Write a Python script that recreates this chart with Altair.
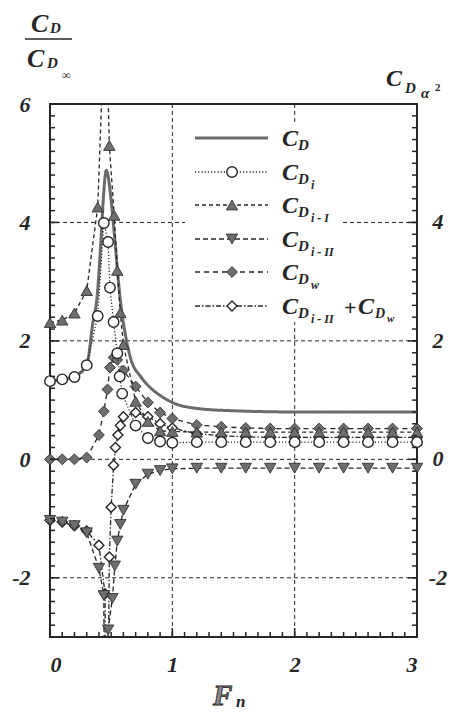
import altair as alt
import numpy as np
import pandas as pd

# ---------------- data: drag ratio components vs. Froude number ----------------
fn_cd = [0.0, 0.1, 0.2, 0.3, 0.35, 0.385, 0.42, 0.435, 0.46, 0.5, 0.525, 0.575,
         0.63, 0.66, 0.74, 0.8, 0.9, 1.0, 1.2, 1.5, 2.0, 2.5, 3.0]
cd = [1.32, 1.35, 1.40, 1.59, 2.30, 2.75, 3.82, 4.37, 4.88, 4.37, 3.82, 2.69,
      1.96, 1.70, 1.40, 1.25, 1.08, 0.96, 0.86, 0.82, 0.80, 0.80, 0.80]

fn_di = [0.0, 0.1, 0.2, 0.3, 0.39, 0.44, 0.475, 0.49, 0.52, 0.55, 0.57, 0.59,
         0.7, 0.8, 0.9, 1.0, 1.2, 1.4, 1.6, 1.8, 2.0, 2.2, 2.4, 2.6, 2.8, 3.0]
cdi = [1.32, 1.35, 1.39, 1.59, 2.42, 3.99, 3.67, 2.90, 2.32, 1.79, 1.40, 1.11,
       0.57, 0.36, 0.30, 0.28, 0.29, 0.29, 0.29, 0.29, 0.29, 0.29, 0.29, 0.29, 0.29, 0.29]

fn_di1 = [0.0, 0.1, 0.2, 0.3, 0.39, 0.455, 0.485, 0.525, 0.55, 0.575, 0.6, 0.7,
          0.8, 0.9, 1.0, 1.2, 1.4, 1.6, 1.8, 2.0, 2.2, 2.4, 2.6, 2.8, 3.0]
cdi1 = [2.31, 2.35, 2.47, 2.85, 4.26, 7.90, 5.30, 4.12, 3.19, 2.48, 1.94, 0.98,
        0.64, 0.48, 0.47, 0.46, 0.46, 0.46, 0.46, 0.46, 0.46, 0.46, 0.46, 0.46, 0.46]

fn_di2 = [0.0, 0.1, 0.2, 0.3, 0.4, 0.44, 0.455, 0.475, 0.51, 0.53, 0.55, 0.575,
          0.6, 0.7, 0.8, 0.9, 1.0, 1.2, 1.4, 1.6, 1.8, 2.0, 2.2, 2.4, 2.6, 2.8, 3.0]
cdi2 = [-1.03, -1.06, -1.12, -1.24, -1.84, -2.30, -8.00, -2.88, -2.35, -1.80, -1.38, -1.10,
        -0.86, -0.42, -0.25, -0.19, -0.16, -0.15, -0.15, -0.15, -0.15, -0.15, -0.15, -0.15,
        -0.15, -0.15, -0.15]

fn_dw = [0.0, 0.1, 0.2, 0.3, 0.4, 0.44, 0.47, 0.49, 0.52, 0.55, 0.6, 0.7, 0.8, 0.9,
         1.0, 1.2, 1.4, 1.6, 1.8, 2.0, 2.2, 2.4, 2.6, 2.8, 3.0]
cdw = [0.0, 0.0, 0.0, 0.03, 0.41, 0.81, 1.18, 1.55, 1.72, 1.68, 1.50, 1.23, 0.96, 0.79,
       0.69, 0.58, 0.55, 0.53, 0.52, 0.52, 0.52, 0.52, 0.52, 0.52, 0.52]

fn_sum = [0.0, 0.1, 0.2, 0.3, 0.4, 0.45, 0.46, 0.485, 0.5, 0.52, 0.535, 0.555, 0.575,
          0.6, 0.7, 0.8, 0.9, 1.0, 1.2, 1.4, 1.6, 1.8, 2.0, 2.2, 2.4, 2.6, 2.8, 3.0]
csum = [-1.03, -1.06, -1.12, -1.21, -1.45, -2.27, -7.00, -1.65, -0.81, -0.10, 0.20, 0.41,
        0.57, 0.72, 0.79, 0.72, 0.60, 0.53, 0.43, 0.40, 0.38, 0.37, 0.37, 0.37, 0.37, 0.37,
        0.37, 0.37]

x_labels = [0, 1, 2, 3]
y_labels = [-2, 0, 2, 4, 6]
right_labels = ["4", "2", "0", "-2"]
right_label_pos = [4, 2, 0, -2]
grid_x = [1, 2]
grid_y = [-2, 0, 2, 4]

# ---------------- layout & style ----------------
W, H = 367, 533
SERIF = "'Liberation Serif', 'Times New Roman', Times, serif"
INK = "#262626"
FILL = "#6e6e6e"
CD_GREY = "#6a6a6a"

xsc = alt.Scale(domain=[0, 3], nice=False, zero=False)
ysc = alt.Scale(domain=[-3, 6], nice=False, zero=False)

label_style = dict(labelFont=SERIF, labelFontSize=22, labelFontStyle="italic",
                   labelFontWeight="bold", labelColor=INK, ticks=False, tickSize=0,
                   domain=False, grid=False, title=None, labelExpr="'' + datum.value")
x_axis = alt.Axis(values=x_labels, labelPadding=17, **label_style)
y_axis = alt.Axis(values=y_labels, labelPadding=20, **label_style)

X = alt.X("Fn:Q", scale=xsc, axis=x_axis)
Y = alt.Y("v:Q", scale=ysc, axis=y_axis)


def one_row():
    return alt.Data(values=[{}])


def txt(s, x, y, size, italic=True, bold=True, align="left", **kw):
    return alt.Chart(one_row()).mark_text(
        font=SERIF, fontSize=size, fontStyle="italic" if italic else "normal",
        fontWeight="bold" if bold else "normal", align=align, baseline="alphabetic",
        color=INK, **kw
    ).encode(x=alt.value(x), y=alt.value(y), text=alt.value(s))


# ---------------- grid ----------------
grid_v = alt.Chart(pd.DataFrame({"Fn": grid_x})).mark_rule(
    color=INK, strokeWidth=1, strokeDash=[4, 3]).encode(x=X)
grid_h = alt.Chart(pd.DataFrame({"v": grid_y})).mark_rule(
    color=INK, strokeWidth=1, strokeDash=[4, 3]).encode(y=Y)

# ---------------- inner ticks ----------------
y_minor = pd.DataFrame({"v": np.round(np.arange(-3, 6.001, 0.2), 2)})
y_major = pd.DataFrame({"v": [-2, 0, 2, 4]})
x_minor = pd.DataFrame({"Fn": np.round(np.arange(0, 3.001, 0.1), 2)})
x_major = pd.DataFrame({"Fn": [1, 2]})

tick = dict(color=INK, strokeWidth=1.5)
ticks = [
    alt.Chart(y_minor).mark_rule(**tick).encode(y=Y, x=alt.value(0), x2=alt.value(5)),
    alt.Chart(y_major).mark_rule(**tick).encode(y=Y, x=alt.value(0), x2=alt.value(9)),
    alt.Chart(y_minor).mark_rule(**tick).encode(y=Y, x=alt.value(W - 5), x2=alt.value(W)),
    alt.Chart(y_major).mark_rule(**tick).encode(y=Y, x=alt.value(W - 9), x2=alt.value(W)),
    alt.Chart(x_minor).mark_rule(**tick).encode(x=X, y=alt.value(H - 5), y2=alt.value(H)),
    alt.Chart(x_major).mark_rule(**tick).encode(x=X, y=alt.value(H - 9), y2=alt.value(H)),
]

# ---------------- series ----------------
styles = {
    "cd":   dict(dash=[1, 0], width=3.0, color=CD_GREY, shape=None),
    "di":   dict(dash=[1.2, 2], width=1.3, color=INK, shape="circle", filled=False, size=110),
    "di1":  dict(dash=[4, 3], width=1.3, color=INK, shape="triangle-up", filled=True, size=130),
    "di2":  dict(dash=[5, 3], width=1.3, color=INK, shape="triangle-down", filled=True, size=130),
    "dw":   dict(dash=[5, 4], width=1.3, color=INK, shape="diamond", filled=True, size=120),
    "sum":  dict(dash=[5, 2, 1.5, 2], width=1.3, color=INK, shape="diamond", filled=False, size=100),
}


def series(fn, vals, key):
    st = styles[key]
    df = pd.DataFrame({"Fn": fn, "v": vals})
    base = alt.Chart(df)
    line = base.mark_line(color=st["color"], strokeWidth=st["width"],
                          strokeDash=st["dash"], clip=True,
                          interpolate="monotone" if key == "cd" else "linear").encode(x=X, y=Y)
    if st["shape"] is None:
        return [line]
    if st["filled"]:
        pt = base.mark_point(shape=st["shape"], filled=True, fill=FILL, fillOpacity=1,
                             stroke=INK, strokeWidth=0.8, size=st["size"])
    else:
        pt = base.mark_point(shape=st["shape"], filled=False, fill="white", fillOpacity=1,
                             stroke=INK, strokeWidth=1.4, size=st["size"])
    pts = pt.transform_filter("datum.v > -3.3 && datum.v < 6.3").encode(x=X, y=Y)
    return [line, pts]


series_layers = (
    series(fn_cd, cd, "cd")
    + series(fn_sum, csum, "sum")
    + series(fn_dw, cdw, "dw")
    + series(fn_di1, cdi1, "di1")
    + series(fn_di2, cdi2, "di2")
    + series(fn_di, cdi, "di")
)

# ---------------- legend (drawn inside the plot) ----------------
legend_box = alt.Chart(one_row()).mark_rect(fill="white", stroke=None).encode(
    x=alt.value(135), x2=alt.value(290), y=alt.value(18), y2=alt.value(218))

rows_y = [34, 68, 101, 135, 168, 202]
row_keys = ["cd", "di", "di1", "di2", "dw", "sum"]
row_subs = ["", "i", "i - I", "i - II", "w", "i - II"]

legend_layers = [legend_box]
for ry, key, sub in zip(rows_y, row_keys, row_subs):
    st = styles[key]
    legend_layers.append(
        alt.Chart(one_row()).mark_rule(color=st["color"], strokeWidth=st["width"],
                                       strokeDash=st["dash"]).encode(
            x=alt.value(145), x2=alt.value(218), y=alt.value(ry)))
    if st["shape"] is not None:
        if st["filled"]:
            m = alt.Chart(one_row()).mark_point(shape=st["shape"], filled=True, fill=FILL,
                                                fillOpacity=1, stroke=INK, strokeWidth=0.8,
                                                size=st["size"])
        else:
            m = alt.Chart(one_row()).mark_point(shape=st["shape"], filled=False, fill="white",
                                                fillOpacity=1, stroke=INK, strokeWidth=1.4,
                                                size=st["size"])
        legend_layers.append(m.encode(x=alt.value(182), y=alt.value(ry)))
    legend_layers.append(txt("C", 232, ry + 8, 24))
    legend_layers.append(txt("D", 248, ry + 12, 15))
    if sub:
        legend_layers.append(txt(sub, 261, ry + 17, 12))
    if key == "sum":
        legend_layers.append(txt("+", 294, ry + 9, 22, italic=False))
        legend_layers.append(txt("C", 308, ry + 8, 24))
        legend_layers.append(txt("D", 325, ry + 12, 14))
        legend_layers.append(txt("w", 337, ry + 16, 11))

# ---------------- axis titles & right-hand labels ----------------
right_axis = alt.Chart(pd.DataFrame({"v": right_label_pos, "s": right_labels})).mark_text(
    font=SERIF, fontSize=22, fontStyle="italic", fontWeight="bold", color=INK,
    align="center", baseline="middle").encode(
    y=Y, x=alt.value(W + 21), text="s:N")

titles = [
    # left: C_D / C_D∞
    txt("C", -19, -72, 26),
    txt("D", 0, -71, 15),
    alt.Chart(one_row()).mark_rule(color=INK, strokeWidth=1.5).encode(
        x=alt.value(-25), x2=alt.value(22), y=alt.value(-65)),
    txt("C", -23, -37, 26),
    txt("D", -3, -36, 15),
    txt("∞", 12, -25, 12, italic=False),
    # right: C_D α²
    txt("C", 336, -18, 24),
    txt("D", 355, -11, 15),
    txt("α", 371, -6, 15),
    txt("2", 385, -13, 11, italic=False),
    # bottom: F_n
    alt.Chart(one_row()).mark_text(
        font=SERIF, fontSize=29, fontWeight="bold", fontStyle="italic", align="left",
        baseline="alphabetic", fill="#8a8a8a", stroke=INK, strokeWidth=0.9).encode(
        x=alt.value(163), y=alt.value(601), text=alt.value("F")),
    txt("n", 186, 603, 17),
]

chart = alt.layer(
    grid_v, grid_h, *legend_layers, *series_layers, *ticks, right_axis, *titles
).properties(
    width=W, height=H,
    padding={"left": 50, "top": 104, "right": 45, "bottom": 76},
    autosize=alt.AutoSizeParams(type="none"),
).configure_view(stroke=INK, strokeWidth=2)

chart.save("out.html", embed_options={"renderer": "svg", "actions": False})
